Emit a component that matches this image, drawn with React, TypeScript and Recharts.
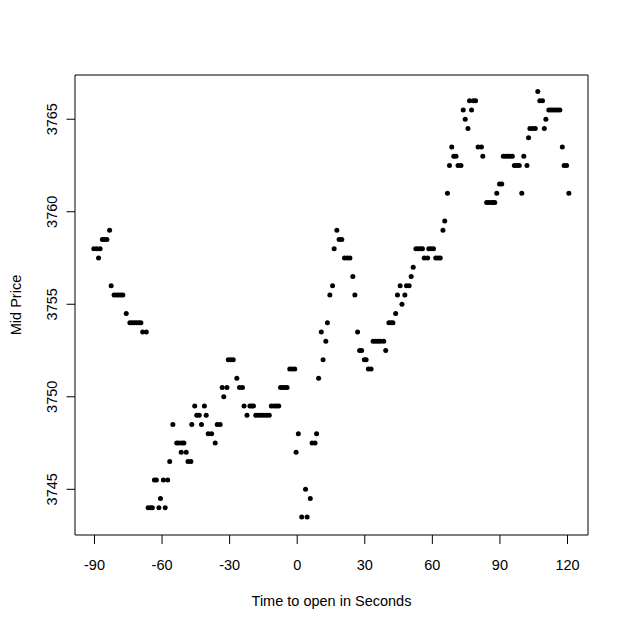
import React from 'react';
import { ScatterChart, Scatter, XAxis, YAxis, ReferenceArea } from 'recharts';

const xTicks = [-90, -60, -30, 0, 30, 60, 90, 120];
const yTicks = [3745, 3750, 3755, 3760, 3765];

const preOpenSeconds = [
  -90.3, -89, -88.2, -87.5, -86.5, -85.5, -84.5, -83.3, -82.6, -81.3,
  -80.3, -79.3, -78.3, -77.4, -75.9, -74.3, -73.3, -72.3, -71.3, -70.3,
  -69.4, -68.6, -67, -66.2, -65.2, -64.3, -63.4, -62.5, -61.4, -60.7,
  -59.4, -58.6, -57.5, -56.6, -55.2, -53.5, -52.5, -51.5, -51.2, -50.3,
  -49.3, -48.5, -47.2, -46.8, -45.5, -44.6, -43.5, -42.5, -41.2, -40.4,
  -39.5, -38, -36.4, -35.5, -34.2, -33.3, -32.6, -31.2, -30.6, -29.5,
  -28.4, -26.8, -25.6, -24.3, -23.6, -22.3, -21, -20.2, -19.4, -18.4,
  -17.2, -16, -14.8, -13.6, -12.4, -11.5, -10.3, -9.2, -8.2, -7.4,
  -6.4, -5.4, -4.5, -3.3, -2.2, -1.1, -0.5,
];
const preOpenPrices = [
  3758, 3758, 3757.5, 3758, 3758.5, 3758.5, 3758.5, 3759, 3756, 3755.5,
  3755.5, 3755.5, 3755.5, 3755.5, 3754.5, 3754, 3754, 3754, 3754, 3754,
  3754, 3753.5, 3753.5, 3744, 3744, 3744, 3745.5, 3745.5, 3744, 3744.5,
  3745.5, 3744, 3745.5, 3746.5, 3748.5, 3747.5, 3747.5, 3747, 3747.5, 3747.5,
  3747, 3746.5, 3746.5, 3748.5, 3749.5, 3749, 3749, 3748.5, 3749.5, 3749,
  3748, 3748, 3747.5, 3748.5, 3748.5, 3750.5, 3750, 3750.5, 3752, 3752,
  3752, 3751, 3750.5, 3750.5, 3749.5, 3749, 3749.5, 3749.5, 3749.5, 3749,
  3749, 3749, 3749, 3749, 3749, 3749.5, 3749.5, 3749.5, 3749.5, 3750.5,
  3750.5, 3750.5, 3750.5, 3751.5, 3751.5, 3751.5, 3747,
];

const postOpenSeconds = [
  0.5, 2.0, 3.7, 4.4, 5.8, 6.6, 7.9, 8.6, 9.5, 10.7,
  11.5, 12.7, 13.4, 14.5, 15.7, 16.4, 17.6, 18.6, 19.8, 21,
  22.2, 23.4, 24.7, 25.6, 26.8, 27.7, 28.6, 29.8, 30.6, 31.6,
  32.8, 33.7, 34.8, 35.9, 37, 38.4, 39.3, 40.7, 41.6, 42.5,
  43.7, 44.5, 45.7, 46.5, 47.8, 48.5, 49.7, 50.6, 51.5, 52.7,
  53.7, 54.7, 55.6, 56.4, 57.9, 58.4, 59.4, 60.5, 61.5, 62.5,
  63.5, 64.7, 65.5, 66.7, 67.6, 68.6, 69.5, 70.5, 71.4, 72.7,
  73.7, 74.6, 75.8, 76.5, 77.4, 78.2, 79.2, 80.3, 81.8, 82.4,
  84.1, 85.1, 86.1, 87, 87.7, 88.6, 89.8, 90.8, 91.5, 92.5,
  93.5, 94.5, 95.5, 96.4, 97.5, 98.6, 99.7, 100.6, 102, 102.7,
  103.3, 104.5, 105.7, 106.8, 107.7, 108.9, 109.7, 110.4, 111.7, 112.7,
  113.7, 114.7, 115.7, 116.6, 117.7, 118.5, 119.6, 120.6,
];
const postOpenPrices = [
  3748, 3743.5, 3745, 3743.5, 3744.5, 3747.5, 3747.5, 3748, 3751, 3753.5,
  3752, 3753, 3754, 3755.5, 3756, 3758, 3759, 3758.5, 3758.5, 3757.5,
  3757.5, 3757.5, 3756.5, 3755.5, 3753.5, 3752.5, 3752.5, 3752, 3752, 3751.5,
  3751.5, 3753, 3753, 3753, 3753, 3753, 3752.5, 3754, 3754, 3754,
  3754.5, 3755.5, 3756, 3755, 3755.5, 3756, 3756, 3756.5, 3757, 3758,
  3758, 3758, 3758, 3757.5, 3757.5, 3758, 3758, 3758, 3757.5, 3757.5,
  3757.5, 3759, 3759.5, 3761, 3762.5, 3763.5, 3763, 3763, 3762.5, 3762.5,
  3765.5, 3765, 3764.5, 3766, 3765.5, 3766, 3766, 3763.5, 3763.5, 3763,
  3760.5, 3760.5, 3760.5, 3760.5, 3760.5, 3761, 3761.5, 3761.5, 3763, 3763,
  3763, 3763, 3763, 3762.5, 3762.5, 3762.5, 3761, 3763, 3762.5, 3764,
  3764.5, 3764.5, 3764.5, 3766.5, 3766, 3766, 3764.5, 3765, 3765.5, 3765.5,
  3765.5, 3765.5, 3765.5, 3765.5, 3763.5, 3762.5, 3762.5, 3761,
];

const seconds = [...preOpenSeconds, ...postOpenSeconds];
const midPrices = [...preOpenPrices, ...postOpenPrices];
const points = seconds.map((t, i) => ({ t, p: midPrices[i] }));

const X_DOMAIN: [number, number] = [-98.65, 129.1];
const Y_DOMAIN: [number, number] = [3742.53, 3767.39];

const FONT = "Arial, 'Liberation Sans', Helvetica, sans-serif";
const FS = 14.5;

const YTick = (props: any) => {
  const { x, y, payload } = props;
  return (
    <text
      x={x}
      y={y}
      transform={`rotate(-90 ${x} ${y})`}
      textAnchor="middle"
      fontSize={FS}
      fontFamily={FONT}
      fill="#000"
    >
      {payload.value}
    </text>
  );
};

const XTick = (props: any) => {
  const { x, y, payload } = props;
  return (
    <text x={x} y={y} dy="0.71em" textAnchor="middle" fontSize={FS} fontFamily={FONT} fill="#000">
      {payload.value}
    </text>
  );
};

const Dot = (props: any) => <circle cx={props.cx} cy={props.cy} r={2.5} fill="#000" />;

export default function App() {
  return (
    <div style={{ position: 'absolute', left: 0, top: 0, width: 628, height: 627, background: '#fff' }}>
      <ScatterChart width={628} height={627} margin={{ top: 75, right: 40, bottom: 0, left: 0 }}>
        <XAxis
          type="number"
          dataKey="t"
          domain={X_DOMAIN}
          ticks={xTicks}
          allowDataOverflow
          axisLine={false}
          tickLine={{ stroke: '#000' }}
          tickSize={9}
          tickMargin={16}
          height={92}
          tick={<XTick />}
          label={{
            content: (lp: any) => {
              const vb = lp.viewBox;
              return (
                <text x={vb.x + vb.width / 2} y={vb.y + 71} textAnchor="middle" fontSize={FS} fontFamily={FONT} fill="#000">
                  Time to open in Seconds
                </text>
              );
            },
          }}
        />
        <YAxis
          type="number"
          dataKey="p"
          domain={Y_DOMAIN}
          ticks={yTicks}
          allowDataOverflow
          axisLine={false}
          tickLine={{ stroke: '#000' }}
          tickSize={8.5}
          tickMargin={9}
          width={75}
          tick={<YTick />}
          label={{
            content: (lp: any) => {
              const vb = lp.viewBox;
              const cx = 21;
              const cy = vb.y + vb.height / 2;
              return (
                <text x={cx} y={cy} transform={`rotate(-90 ${cx} ${cy})`} textAnchor="middle" fontSize={FS} fontFamily={FONT} fill="#000">
                  Mid Price
                </text>
              );
            },
          }}
        />
        <ReferenceArea
          x1={X_DOMAIN[0]}
          x2={X_DOMAIN[1]}
          y1={Y_DOMAIN[0]}
          y2={Y_DOMAIN[1]}
          fill="none"
          stroke="#000"
          strokeWidth={1}
          ifOverflow="visible"
        />
        <Scatter data={points} shape={<Dot />} isAnimationActive={false} />
      </ScatterChart>
    </div>
  );
}
